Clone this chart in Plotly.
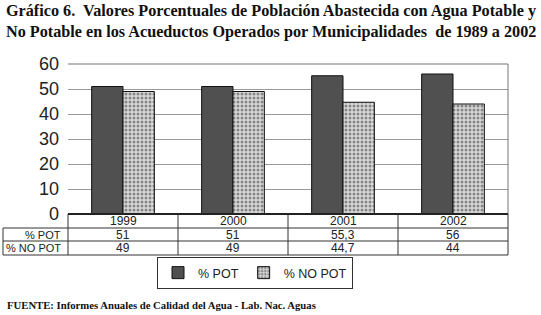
import plotly.graph_objects as go

years = ["1999", "2000", "2001", "2002"]
pot = [51, 51, 55.3, 56]
no_pot = [49, 49, 44.7, 44]
pot_labels = ["51", "51", "55,3", "56"]
no_pot_labels = ["49", "49", "44,7", "44"]
series_names = ["% POT", "% NO POT"]
y_ticks = [0, 10, 20, 30, 40, 50, 60]

title_text = ("<b>Gráfico 6.  Valores Porcentuales de Población Abastecida con Agua Potable y</b><br>"
              "<b>No Potable en los Acueductos Operados por Municipalidades  de 1989 a 2002</b>")
source_text = "<b>FUENTE: Informes Anuales de Calidad del Agua - Lab. Nac. Aguas</b>"

W, H = 541, 315
L, R, T, B = 68, 33, 64, 101
pw, ph = W - L - R, H - T - B

def px_x(x):
    return (x - L) / pw

def px_y(y):
    return (H - B - y) / ph

fig = go.Figure()
fig.add_trace(go.Bar(
    x=years, y=pot, name=series_names[0],
    marker=dict(color="#505050", line=dict(color="#111111", width=1)),
))
fig.add_trace(go.Bar(
    x=years, y=no_pot, name=series_names[1],
    marker=dict(color="#d8d8d8", line=dict(color="#111111", width=1),
                pattern=dict(shape=".", fgcolor="#333333", bgcolor="#d8d8d8", size=4, solidity=0.45)),
))

shapes = []
line_col = "#333333"
for yy in [228, 241, 255]:
    shapes.append(dict(type="line", xref="paper", yref="paper", x0=px_x(3), x1=1,
                       y0=px_y(yy), y1=px_y(yy), line=dict(color=line_col, width=1)))
shapes.append(dict(type="line", xref="paper", yref="paper", x0=px_x(3), x1=px_x(3),
                   y0=px_y(228), y1=px_y(255), line=dict(color=line_col, width=1)))
for i in range(len(years) + 1):
    xp = i / len(years)
    shapes.append(dict(type="line", xref="paper", yref="paper", x0=xp, x1=xp,
                       y0=0, y1=px_y(255), line=dict(color=line_col, width=1)))
shapes.append(dict(type="line", xref="paper", yref="paper", x0=0, x1=1, y0=1, y1=1,
                   line=dict(color="#777777", width=1)))
shapes.append(dict(type="line", xref="paper", yref="paper", x0=1, x1=1, y0=0, y1=1,
                   line=dict(color="#777777", width=1)))
shapes.append(dict(type="line", xref="paper", yref="paper", x0=0, x1=1, y0=0, y1=0,
                   line=dict(color="#222222", width=2)))

annotations = []
tfont = dict(family="Liberation Sans, Arial", size=12, color="#222222")
lfont = dict(family="Liberation Sans, Arial", size=11, color="#222222")
for i, yr in enumerate(years):
    annotations.append(dict(x=i, xref="x", y=px_y(221), yref="paper", text=yr,
                            showarrow=False, yanchor="middle", font=tfont))
    annotations.append(dict(x=i, xref="x", y=px_y(234.5), yref="paper", text=pot_labels[i],
                            showarrow=False, yanchor="middle", font=tfont))
    annotations.append(dict(x=i, xref="x", y=px_y(248), yref="paper", text=no_pot_labels[i],
                            showarrow=False, yanchor="middle", font=tfont))
annotations.append(dict(x=px_x(63), xref="paper", y=px_y(234.5), yref="paper", text=series_names[0],
                        showarrow=False, xanchor="right", yanchor="middle", font=lfont))
annotations.append(dict(x=px_x(63), xref="paper", y=px_y(248), yref="paper", text=series_names[1],
                        showarrow=False, xanchor="right", yanchor="middle", font=lfont))
annotations.append(dict(x=px_x(4), xref="paper", y=px_y(21), yref="paper", text=title_text,
                        showarrow=False, xanchor="left", yanchor="middle", align="left",
                        font=dict(family="Liberation Serif, Times New Roman", size=16.2, color="#111111")))
annotations.append(dict(x=px_x(5), xref="paper", y=px_y(305), yref="paper", text=source_text,
                        showarrow=False, xanchor="left", yanchor="middle", align="left",
                        font=dict(family="Liberation Serif, Times New Roman", size=10.7, color="#111111")))

fig.update_layout(
    width=W, height=H,
    margin=dict(l=L, r=R, t=T, b=B),
    paper_bgcolor="white", plot_bgcolor="white",
    barmode="group", bargap=0.43, bargroupgap=0,
    showlegend=True,
    legend=dict(orientation="h", x=px_x(255), xanchor="center", y=px_y(273), yanchor="middle",
                bordercolor="#333333", borderwidth=1, bgcolor="white",
                font=dict(family="Liberation Sans, Arial", size=12.5, color="#222222"),
                itemwidth=30, tracegroupgap=0),
    xaxis=dict(type="category", range=[-0.5, 3.5], showticklabels=False, showgrid=False,
               showline=False, zeroline=False),
    yaxis=dict(range=[0, 60], tickvals=y_ticks, showgrid=True, gridcolor="#999999", gridwidth=1,
               zeroline=False, showline=False, ticks="",
               tickfont=dict(family="Liberation Sans, Arial", size=18, color="#222222"),
               ticklabelstandoff=8),
    shapes=shapes, annotations=annotations,
)

fig.write_html("out.html", config={"displayModeBar": False},
               post_script="document.body.style.margin='0';")
